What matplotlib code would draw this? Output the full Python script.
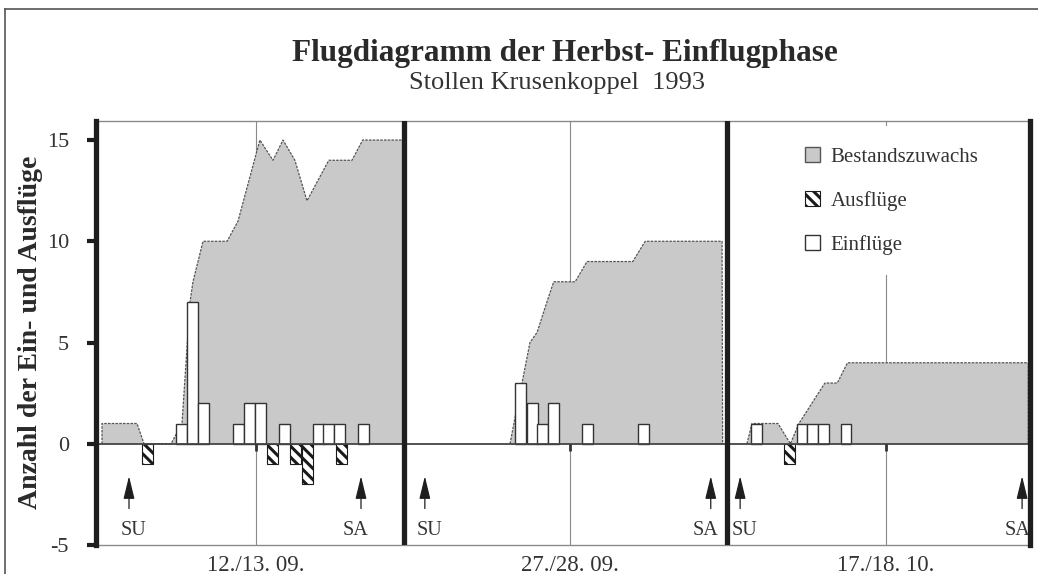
import matplotlib
matplotlib.use('Agg')
from matplotlib import pyplot as plt
from matplotlib.patches import Patch
from matplotlib.lines import Line2D

plt.rcParams['font.family'] = ['Liberation Serif', 'DejaVu Serif']
plt.rcParams['hatch.linewidth'] = 2.2

# x axis: time slots (one slot = one bar), three nights side by side
panel_edges = [0, 27.26, 55.84, 82.65]
night_mid = [14.16, 41.95, 69.9]
night_labels = ['12./13. 09.', '27./28. 09.', '17./18. 10.']

# Bestandszuwachs (outline of grey area) per night
best1_x = [0.53, 0.53, 3.63, 4.25, 6.64, 7.61, 8.32, 8.58, 9.47, 11.6, 12.57,
           14.5, 15.66, 16.55, 17.6, 18.67, 20.6, 22.65, 23.6, 27.17, 27.17]
best1_y = [0, 1, 1, 0, 0, 1, 7, 8, 10, 10, 11, 15, 14, 15, 14, 12, 14, 14, 15, 15, 0]
best2_x = [36.64, 37.08, 37.7, 38.4, 39.03, 39.9, 40.5, 42.4, 43.45, 47.5, 48.6,
           55.4, 55.45]
best2_y = [0, 1.3, 3, 5, 5.5, 7, 8, 8, 9, 9, 10, 10, 0]
best3_x = [57.6, 58.05, 60.35, 61.45, 62.2, 64.5, 65.6, 66.5, 82.5, 82.5]
best3_y = [0, 1, 1, 0, 1, 3, 3, 4, 4, 0]

# Einflüge (white bars)
ein_x = [7.08, 8.05, 9.03, 12.12, 13.1, 14.07, 16.2, 19.2, 20.1, 21.06, 23.19,
         37.08, 38.14, 39.03, 40.0, 43.0, 47.96,
         57.96, 62.0, 62.9, 63.9, 65.9]
ein_n = [1, 7, 2, 1, 2, 2, 1, 1, 1, 1, 1,
         3, 2, 1, 2, 1, 1,
         1, 1, 1, 1, 1]

# Ausflüge (hatched bars, negative)
aus_x = [4.07, 15.13, 17.17, 18.23, 21.24, 60.9]
aus_n = [-1, -1, -1, -2, -1, -1]

# sunset / sunrise
su_x = [2.92, 29.1, 57.0]
sa_x = [23.45, 54.4, 81.95]

grey = '#c9c9c9'
ink = '#2a2a2a'

fig = plt.figure(figsize=(10.38, 5.74), dpi=100)
ax = fig.add_axes([96 / 1038, 1 - 545 / 574, 934 / 1038, 424 / 574])

ax.set_xlim(panel_edges[0], panel_edges[-1])
ax.set_ylim(-5, 15.94)

# night midlines (behind everything)
for m in night_mid:
    ax.axvline(m, color='#8a8a8a', lw=0.8, zorder=0)

for bx, by in [(best1_x, best1_y), (best2_x, best2_y), (best3_x, best3_y)]:
    ax.fill_between(bx, by, 0, facecolor=grey, edgecolor='none', zorder=1)
    ax.plot(bx, by, color='#555555', lw=0.9, ls=(0, (2, 1)), zorder=2)

ax.bar(ein_x, ein_n, width=0.95, align='edge', facecolor='white',
       edgecolor='#333333', lw=1, zorder=3)
ax.bar(aus_x, aus_n, width=0.95, align='edge', facecolor='white',
       edgecolor='#1a1a1a', lw=0.8, hatch='\\\\\\', zorder=3)

# baseline of each night and small marks at the midlines
for i in range(3):
    ax.hlines(0, panel_edges[i] + 0.3, panel_edges[i + 1] - 0.2,
              color='#444444', lw=1.3, zorder=4)
ax.vlines(night_mid, -0.35, 0, color='#333333', lw=2, zorder=4)

# separators between nights
for e in panel_edges[1:3]:
    ax.axvline(e, color='#1e1e1e', lw=3.8, zorder=6)

for x in su_x + sa_x:
    ax.annotate('', xy=(x, -1.6), xytext=(x, -3.2),
                arrowprops=dict(arrowstyle='-|>,head_length=0.7,head_width=0.17',
                                mutation_scale=20, color='#1e1e1e', lw=0.9,
                                shrinkA=0, shrinkB=0), zorder=5)
for x in su_x:
    ax.text(x + 0.4, -4.3, 'SU', ha='center', va='center', fontsize=14.5, color='#333333')
for x in sa_x:
    ax.text(x - 0.45, -4.3, 'SA', ha='center', va='center', fontsize=14.5, color='#333333')

# spines and ticks
for s in ['left', 'right']:
    ax.spines[s].set_linewidth(3.8)
    ax.spines[s].set_color('#1e1e1e')
    ax.spines[s].set_zorder(6)
for s in ['top', 'bottom']:
    ax.spines[s].set_linewidth(1)
    ax.spines[s].set_color('#8a8a8a')

ax.set_yticks([-5, 0, 5, 10, 15])
ax.set_yticklabels(['-5', '0', '5', '10', '15'])
ax.tick_params(axis='y', direction='out', length=6.5, width=3, color='#1e1e1e',
               labelsize=16, labelcolor='#333333', pad=13)
ax.set_xticks(night_mid)
ax.set_xticklabels(night_labels)
ax.tick_params(axis='x', length=0, labelsize=16.5, labelcolor='#333333', pad=7)

handles = [Patch(facecolor=grey, edgecolor='#555555', lw=1),
           Patch(facecolor='white', edgecolor='#1a1a1a', lw=0.8, hatch='\\\\\\'),
           Patch(facecolor='white', edgecolor='#333333', lw=1)]
leg = ax.legend(handles, ['Bestandszuwachs', 'Ausflüge', 'Einflüge'],
                loc='upper left', bbox_to_anchor=(0.7366, 0.988), fontsize=15,
                borderpad=1.0, borderaxespad=0, labelspacing=1.15,
                handlelength=0.75, handleheight=0.75, handletextpad=0.5,
                frameon=True, fancybox=False, framealpha=1, edgecolor='none',
                facecolor='white')
leg.set_zorder(5)
for t in leg.get_texts():
    t.set_color('#333333')

fig.text(31 / 1038, 1 - 332 / 574, 'Anzahl der Ein- und Ausflüge', rotation=90,
         ha='center', va='center', fontsize=20, fontweight='bold', color=ink)
fig.text(565 / 1038, 1 - 61 / 574, 'Flugdiagramm der Herbst- Einflugphase',
         ha='center', va='baseline', fontsize=22.5, fontweight='bold', color=ink)
fig.text(557 / 1038, 1 - 89 / 574, 'Stollen Krusenkoppel  1993',
         ha='center', va='baseline', fontsize=19, color='#333333')

# outer frame of the figure
fig.add_artist(Line2D([5 / 1038, 1], [1 - 9 / 574, 1 - 9 / 574],
                      transform=fig.transFigure, color='#555555', lw=1.2))
fig.add_artist(Line2D([5 / 1038, 5 / 1038], [0, 1 - 9 / 574],
                      transform=fig.transFigure, color='#555555', lw=1.2))

fig.savefig('out.png', dpi=100)
